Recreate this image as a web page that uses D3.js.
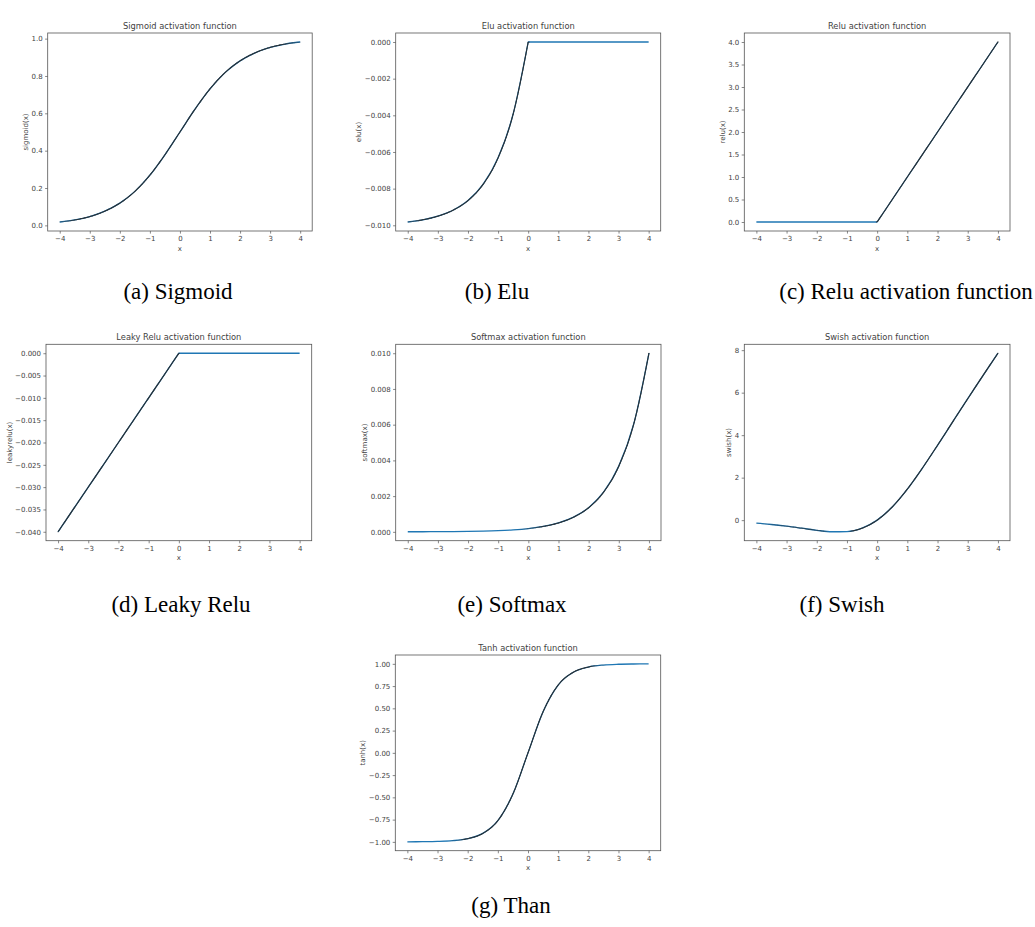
<!DOCTYPE html>
<html>
<head>
<meta charset="utf-8">
<script src="https://cdn.jsdelivr.net/npm/d3@7"></script>
<style>
  html, body { margin: 0; padding: 0; background: #fff; }
  svg { display: block; }
</style>
</head>
<body>
<svg id="chart" width="1035" height="927"></svg>
<script>
// ---------------- DATA ----------------
const xValues = [-4, -3.5, -3, -2.5, -2, -1.5, -1, -0.5, 0, 0.5, 1, 1.5, 2, 2.5, 3, 3.5, 4];

const sigmoidValues = [0.018, 0.029, 0.047, 0.076, 0.119, 0.182, 0.269, 0.378, 0.5, 0.622, 0.731, 0.818, 0.881, 0.924, 0.953, 0.971, 0.982];
const eluValues = [-0.00982, -0.00970, -0.00950, -0.00918, -0.00865, -0.00777, -0.00632, -0.00393, 0, 0, 0, 0, 0, 0, 0, 0, 0];
const reluValues = [0, 0, 0, 0, 0, 0, 0, 0, 0, 0.5, 1, 1.5, 2, 2.5, 3, 3.5, 4];
const leakyReluValues = [-0.04, -0.035, -0.03, -0.025, -0.02, -0.015, -0.01, -0.005, 0, 0, 0, 0, 0, 0, 0, 0, 0];
const softmaxValues = [0.0000034, 0.0000055, 0.0000091, 0.000015, 0.0000248, 0.0000409, 0.0000674, 0.000111, 0.000183, 0.000302, 0.000498, 0.000821, 0.001353, 0.002231, 0.003679, 0.006065, 0.0100];
const swishValues = [-0.144, -0.205, -0.285, -0.379, -0.477, -0.547, -0.538, -0.378, 0, 0.622, 1.462, 2.453, 3.523, 4.621, 5.716, 6.795, 7.856];
const tanhValues = [-0.9993, -0.9982, -0.9951, -0.9866, -0.964, -0.9051, -0.7616, -0.4621, 0, 0.4621, 0.7616, 0.9051, 0.964, 0.9866, 0.9951, 0.9982, 0.9993];

const xTicks = [-4, -3, -2, -1, 0, 1, 2, 3, 4];
const sigmoidTicks = [0.0, 0.2, 0.4, 0.6, 0.8, 1.0];
const eluTicks = [0.000, -0.002, -0.004, -0.006, -0.008, -0.010];
const reluTicks = [0.0, 0.5, 1.0, 1.5, 2.0, 2.5, 3.0, 3.5, 4.0];
const leakyTicks = [0.000, -0.005, -0.010, -0.015, -0.020, -0.025, -0.030, -0.035, -0.040];
const softmaxTicks = [0.000, 0.002, 0.004, 0.006, 0.008, 0.010];
const swishTicks = [0, 2, 4, 6, 8];
const tanhTicks = [-1.00, -0.75, -0.50, -0.25, 0.00, 0.25, 0.50, 0.75, 1.00];

const titles = ["Sigmoid activation function", "Elu activation function", "Relu activation function",
                "Leaky Relu activation function", "Softmax activation function", "Swish activation function",
                "Tanh activation function"];
const yLabels = ["sigmoid(x)", "elu(x)", "relu(x)", "leakyrelu(x)", "softmax(x)", "swish(x)", "tanh(x)"];
const captions = ["(a) Sigmoid", "(b) Elu", "(c) Relu activation function", "(d) Leaky Relu",
                  "(e) Softmax", "(f) Swish", "(g) Than"];

// ---------------- LAYOUT / STYLE ----------------
const series = [sigmoidValues, eluValues, reluValues, leakyReluValues, softmaxValues, swishValues, tanhValues];
const yTickSets = [sigmoidTicks, eluTicks, reluTicks, leakyTicks, softmaxTicks, swishTicks, tanhTicks];
const yFormats = [".1f", ".3f", ".1f", ".3f", ".3f", "d", ".2f"];
// how each line is drawn: smooth curve, straight segments, or smooth up to the kink at x=0 then straight
const curveModes = ["smooth", "kink", "linear", "linear", "smooth", "smooth", "smooth"];
const boxes = [
  {l: 47.7, t: 33, w: 264.5, h: 198},
  {l: 395.7, t: 33, w: 265, h: 198},
  {l: 744.3, t: 33, w: 265.7, h: 198},
  {l: 46, t: 344.3, w: 265.7, h: 196.4},
  {l: 395.7, t: 344.3, w: 265.3, h: 196.4},
  {l: 744.3, t: 344.3, w: 265.7, h: 196.4},
  {l: 395.3, t: 655, w: 265.4, h: 195.7}
];
const captionPos = [
  {x: 178, y: 299}, {x: 497, y: 299}, {x: 906, y: 299},
  {x: 181, y: 612}, {x: 512, y: 612}, {x: 842, y: 612},
  {x: 511, y: 913}
];

const svg = d3.select("#chart");
svg.append("rect").attr("width", 1035).attr("height", 927).attr("fill", "#fff");

const axisColor = "#555";
const textColor = "#3f3f3f";
const tickFont = "'DejaVu Sans', sans-serif";

function smoothstep(a, b, v) {
  const t = Math.max(0, Math.min(1, (v - a) / (b - a)));
  return t * t * (3 - 2 * t);
}

series.forEach((vals, i) => {
  const b = boxes[i];
  const g = svg.append("g").attr("transform", `translate(${b.l},${b.t})`);
  const pts = xValues.map((xv, k) => [xv, vals[k]]);

  const xExt = d3.extent(xValues);
  const xPad = (xExt[1] - xExt[0]) * 0.05;
  const x = d3.scaleLinear().domain([xExt[0] - xPad, xExt[1] + xPad]).range([0, b.w]);
  const yExt = d3.extent(vals);
  const yPad = (yExt[1] - yExt[0]) * 0.05;
  const y = d3.scaleLinear().domain([yExt[0] - yPad, yExt[1] + yPad]).range([b.h, 0]);

  // line
  const smoothLine = d3.line().x(d => x(d[0])).y(d => y(d[1])).curve(d3.curveMonotoneX);
  const linearLine = d3.line().x(d => x(d[0])).y(d => y(d[1])).curve(d3.curveLinear);
  let dStr;
  if (curveModes[i] === "smooth") dStr = smoothLine(pts);
  else if (curveModes[i] === "linear") dStr = linearLine(pts);
  else {
    const k = xValues.indexOf(0);
    dStr = smoothLine(pts.slice(0, k + 1)) + linearLine(pts.slice(k)).replace(/^M/, "L");
  }
  const path = g.append("path").attr("d", dStr)
    .attr("fill", "none").attr("stroke", "#1f77b4").attr("stroke-width", 1.3)
    .attr("stroke-linejoin", "round");
  // dark rendering on the steeper parts (as seen in the scanned picture)
  const node = path.node();
  const L = node.getTotalLength();
  const step = 1.5;
  let prev = node.getPointAtLength(0);
  const dark = g.append("g");
  for (let s = step; s < L + step; s += step) {
    const cur = node.getPointAtLength(Math.min(s, L));
    const ang = Math.atan2(Math.abs(cur.y - prev.y), Math.abs(cur.x - prev.x) + 1e-9) * 180 / Math.PI;
    const o = smoothstep(3, 12, ang);
    if (o > 0.02) {
      dark.append("line")
        .attr("x1", prev.x).attr("y1", prev.y).attr("x2", cur.x).attr("y2", cur.y)
        .attr("stroke", "#2a2a2a").attr("stroke-opacity", 0.85 * o)
        .attr("stroke-width", 1.05).attr("stroke-linecap", "round");
    }
    prev = cur;
  }

  // axes
  const xAxis = d3.axisBottom(x).tickValues(xTicks).tickFormat(d3.format("d")).tickSize(2.6).tickPadding(2.4);
  const gx = g.append("g").attr("transform", `translate(0,${b.h})`).call(xAxis);
  const yAxis = d3.axisLeft(y).tickValues(yTickSets[i]).tickFormat(d3.format(yFormats[i])).tickSize(2.6).tickPadding(2.4);
  const gy = g.append("g").call(yAxis);
  [gx, gy].forEach(ax => {
    ax.select(".domain").remove();
    ax.selectAll(".tick line").attr("stroke", axisColor).attr("stroke-width", 0.7);
    ax.selectAll(".tick text").attr("fill", textColor).style("font-family", tickFont).style("font-size", "7px");
  });

  // frame
  g.append("rect").attr("x", 0).attr("y", 0).attr("width", b.w).attr("height", b.h)
    .attr("fill", "none").attr("stroke", axisColor).attr("stroke-width", 0.8);

  // title
  g.append("text").attr("x", b.w / 2).attr("y", -4.2).attr("text-anchor", "middle")
    .attr("fill", textColor).style("font-family", tickFont).style("font-size", "8.3px")
    .text(titles[i]);

  // x label
  g.append("text").attr("x", b.w / 2).attr("y", b.h + 19.5).attr("text-anchor", "middle")
    .attr("fill", textColor).style("font-family", tickFont).style("font-size", "7px")
    .text("x");

  // y label
  const bb = gy.node().getBBox();
  g.append("text").attr("transform", `translate(${bb.x - 3.5},${b.h / 2}) rotate(-90)`)
    .attr("text-anchor", "middle").attr("fill", textColor)
    .style("font-family", tickFont).style("font-size", "7px")
    .text(yLabels[i]);

  // caption
  svg.append("text").attr("x", captionPos[i].x).attr("y", captionPos[i].y)
    .attr("text-anchor", "middle").attr("fill", "#000")
    .style("font-family", "'Liberation Serif', 'Times New Roman', serif").style("font-size", "23px")
    .text(captions[i]);
});
</script>
</body>
</html>
